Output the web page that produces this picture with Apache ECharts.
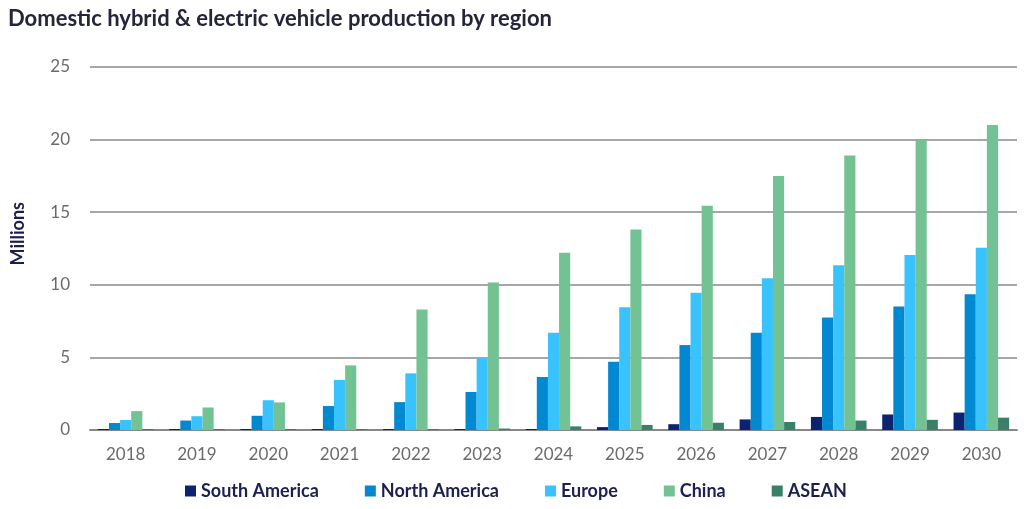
<!DOCTYPE html>
<html><head><meta charset="utf-8">
<script src="https://cdn.jsdelivr.net/npm/echarts@6/dist/echarts.min.js"></script>
<style>html,body{margin:0;padding:0;background:#fff}#c{width:1024px;height:509px}</style>
</head><body><div id="c"></div>
<script>
const years = ['2018','2019','2020','2021','2022','2023','2024','2025','2026','2027','2028','2029','2030'];
const southAmerica = [0.07,0.07,0.07,0.07,0.07,0.07,0.07,0.2,0.4,0.73,0.9,1.07,1.2];
const northAmerica = [0.48,0.65,0.98,1.65,1.92,2.62,3.65,4.7,5.85,6.7,7.75,8.5,9.35];
const europe = [0.69,0.95,2.05,3.45,3.9,4.95,6.7,8.45,9.45,10.45,11.35,12.05,12.55];
const china = [1.3,1.55,1.9,4.45,8.3,10.15,12.2,13.8,15.45,17.5,18.9,20.0,21.0];
const asean = [0.07,0.07,0.07,0.07,0.07,0.1,0.25,0.35,0.5,0.55,0.65,0.7,0.85];
const yTicks = [0,5,10,15,20,25];

const names = ['South America','North America','Europe','China','ASEAN'];
const colors = ['#0b2370','#0088d1','#38c3ff','#72c293','#3a8068'];
const data = [southAmerica,northAmerica,europe,china,asean];

const chart = echarts.init(document.getElementById('c'));
chart.setOption({
  animation:false,
  title:{text:'Domestic hybrid & electric vehicle production by region',left:3,top:3,
    textStyle:{fontFamily:'Lato',fontWeight:'bold',fontSize:22,color:'#25253a'}},
  legend:{bottom:4,left:180,itemGap:46,itemWidth:11,itemHeight:11,icon:'rect',
    textStyle:{fontFamily:'Lato',fontWeight:'bold',fontSize:18,color:'#1a2050'}},
  grid:{left:90,right:7,top:67,bottom:79},
  graphic:[{type:'text',left:9,top:202,rotation:Math.PI/2,
    style:{text:'Millions',fontFamily:'Lato',fontWeight:'bold',fontSize:18,fill:'#1a2050'}}],
  xAxis:{type:'category',data:years,
    axisLine:{lineStyle:{color:'#888',width:2}},axisTick:{show:false},
    axisLabel:{fontFamily:'Lato',fontSize:17,color:'#6b6b6b',margin:16}},
  yAxis:{type:'value',min:0,max:25,interval:5,
    axisLine:{show:false},axisTick:{show:false},
    axisLabel:{fontFamily:'Lato',fontSize:17,color:'#6b6b6b',margin:20,
      formatter:v=>yTicks.includes(v)?String(v):''},
    splitLine:{lineStyle:{color:'#8a8a8a',width:1.5}}},
  series:names.map((n,i)=>({name:n,type:'bar',data:data[i],
    itemStyle:{color:colors[i]},barGap:'0%',barCategoryGap:'22%'}))
});
</script></body></html>
